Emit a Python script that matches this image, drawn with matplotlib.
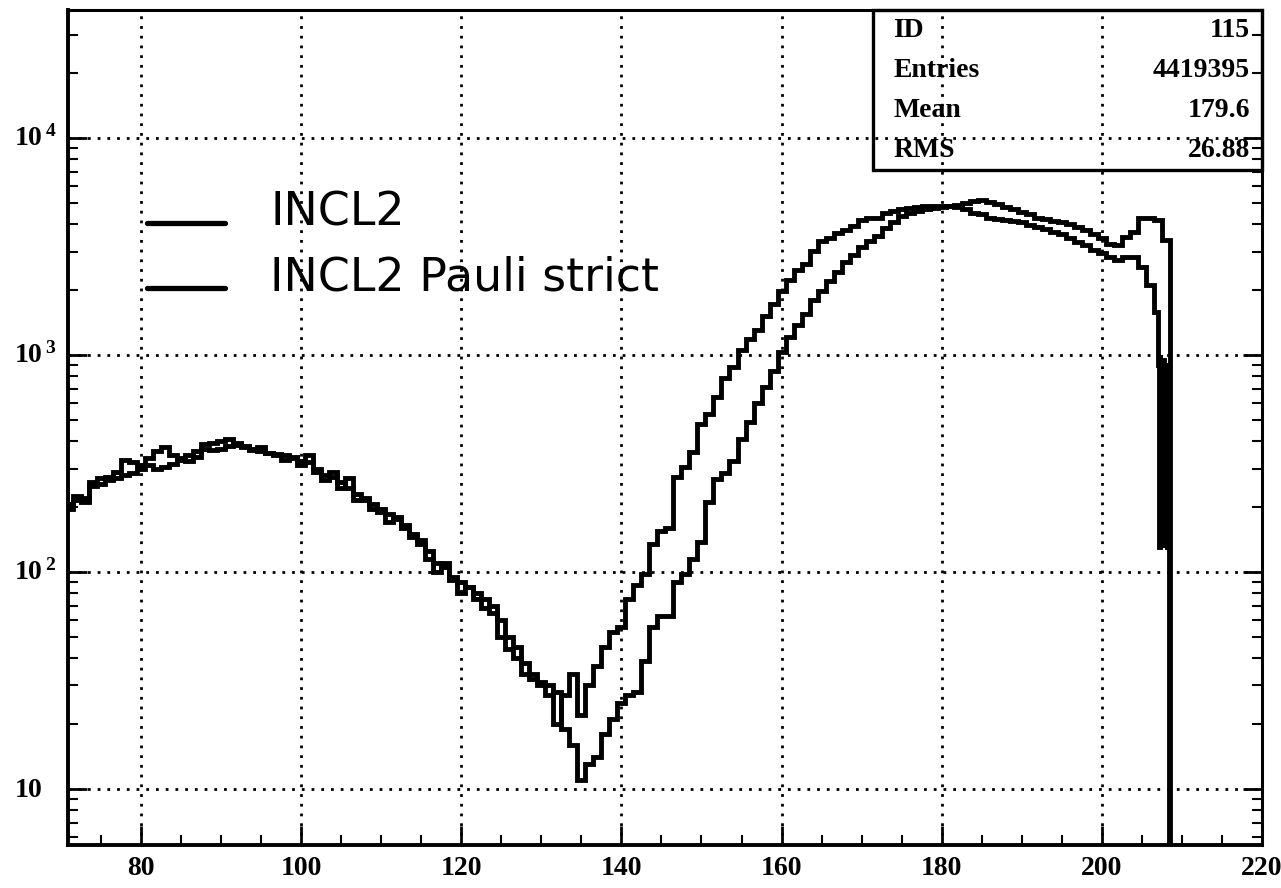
import matplotlib
matplotlib.use('Agg')
import matplotlib.pyplot as plt
import matplotlib.transforms as mtransforms
from matplotlib.patches import Rectangle
from matplotlib.ticker import MultipleLocator, LogLocator, NullFormatter
import numpy as np

plt.rcParams['mathtext.fontset'] = 'custom'
plt.rcParams['mathtext.rm'] = 'Liberation Serif:bold'
plt.rcParams['mathtext.bf'] = 'Liberation Serif:bold'

# ---- data: counts per unit bin, bin centres start at 71 ----
first_bin = 71

# INCL2, bins 71..206
incl2 = [205, 215, 220, 250, 255, 265, 270, 280, 285, 300,
         310, 300, 305, 315, 330, 345, 340, 370, 365, 370,
         380, 385, 375, 365, 360, 355, 350, 345, 335, 325,
         320, 300, 280, 275, 260, 245, 230, 215, 205, 195,
         185, 175, 160, 150, 140, 125, 110, 105, 95, 90,
         85, 80, 75, 70, 60, 50, 45, 38, 34, 31,
         30, 20, 27, 34, 22, 30, 37, 45, 53, 56,
         75, 87, 98, 135, 155, 160, 275, 305, 357, 483,
         535, 641, 785, 879, 1054, 1180, 1300, 1516, 1713, 1974,
         2227, 2465, 2620, 3020, 3340, 3470, 3650, 3750, 3940, 4180,
         4300, 4300, 4500, 4600, 4700, 4750, 4800, 4850, 4850, 4850,
         4850, 4800, 4700, 4500, 4450, 4300, 4250, 4200, 4150, 4100,
         3980, 3900, 3800, 3700, 3600, 3450, 3330, 3200, 3050, 2950,
         2830, 2740, 2830, 2830, 2540, 2100]
# INCL2 end of spectrum, finer binning (edges below)
incl2_tail = [1580, 900, 130, 1000, 140, 850, 135, 950, 130, 800, 140, 900, 130, 700, 130]
incl2_tail_edges = [206.5, 207.0, 207.1, 207.2, 207.3, 207.4, 207.5, 207.6, 207.7,
                    207.8, 207.9, 208.0, 208.1, 208.2, 208.3, 208.4]

# INCL2 Pauli strict, bins 71..208
pauli = [195, 225, 210, 260, 270, 275, 290, 330, 320, 310,
         335, 360, 375, 345, 335, 325, 360, 390, 395, 400,
         410, 395, 380, 370, 375, 355, 345, 330, 340, 310,
         345, 290, 265, 290, 245, 270, 215, 220, 195, 190,
         170, 180, 165, 145, 135, 115, 100, 110, 92, 80,
         85, 75, 68, 65, 50, 44, 40, 34, 32, 30,
         27, 28, 19, 16, 11, 13, 14, 18, 21, 25,
         27, 28, 39, 56, 63, 63, 90, 98, 115, 138,
         211, 269, 286, 324, 411, 493, 603, 709, 846, 1033,
         1215, 1371, 1550, 1786, 1977, 2190, 2422, 2681, 2906, 3150,
         3350, 3550, 3850, 4100, 4350, 4500, 4620, 4700, 4750, 4800,
         4850, 4900, 5000, 5150, 5180, 5100, 4950, 4800, 4700, 4550,
         4450, 4300, 4250, 4150, 4100, 4000, 3900, 3750, 3600, 3450,
         3250, 3200, 3500, 3700, 4280, 4280, 4200, 3400]

stats_labels = ['ID', 'Entries', 'Mean', 'RMS']
stats_values = ['115', '4419395', '179.6', '26.88']
legend_labels = ['INCL2', 'INCL2 Pauli strict']
x_ticks = [80, 100, 120, 140, 160, 180, 200, 220]
y_decades = [1, 2, 3, 4]

# ---- figure ----
fig = plt.figure(figsize=(12.81, 8.88), dpi=100)
ax = fig.add_axes([0.0531, 0.0484, 0.9321, 0.9403])

incl2_edges = np.concatenate([first_bin - 0.5 + np.arange(len(incl2)), incl2_tail_edges])
pauli_edges = first_bin - 0.5 + np.arange(len(pauli) + 1)

ax.stairs(incl2 + incl2_tail, incl2_edges, baseline=0.01, color='black', lw=3.5)
ax.stairs(pauli, pauli_edges, baseline=0.01, color='black', lw=3.5)

ax.set_yscale('log')
ax.set_xlim(70.9, 220)
ax.set_ylim(5.52, 38900)

ax.xaxis.set_major_locator(MultipleLocator(20))
ax.xaxis.set_minor_locator(MultipleLocator(5))
ax.yaxis.set_major_locator(LogLocator(base=10))
ax.yaxis.set_minor_locator(LogLocator(base=10, subs=np.arange(2, 10)))
ax.yaxis.set_major_formatter(NullFormatter())
ax.yaxis.set_minor_formatter(NullFormatter())

ax.set_xticks(x_ticks)
ax.set_xticklabels([str(t) for t in x_ticks], fontfamily='Liberation Serif',
                   fontweight='bold', fontsize=20)

ax.tick_params(which='major', direction='in', length=14, width=2,
               left=True, right=True, bottom=True, top=False, labelleft=False, pad=8)
ax.tick_params(which='minor', direction='in', length=7, width=1.5,
               left=True, right=True, bottom=True, top=False)

ax.grid(True, which='major', color='black', linestyle=(0, (1, 2.5)), lw=2.0)

for side in ['left', 'bottom']:
    ax.spines[side].set_linewidth(2.8)
for side in ['right', 'top']:
    ax.spines[side].set_linewidth(2.2)

# y labels: "10", "10^2", ...
trans_y = mtransforms.blended_transform_factory(ax.transAxes, ax.transData)
for d in y_decades:
    lab = r'$\mathbf{10}$' if d == 1 else r'$\mathbf{10^{\,%d}}$' % d
    ax.text(-0.0455, 10.0 ** d, lab, transform=trans_y, ha='left', va='center',
            fontsize=20, clip_on=False)

# legend drawn by hand
leg_y = [0.745, 0.667]
for yy, lab in zip(leg_y, legend_labels):
    ax.plot([0.0663, 0.1317], [yy, yy], transform=ax.transAxes, color='black',
            lw=3.8, solid_capstyle='round')
    ax.text(0.1695, yy - 0.003, lab, transform=ax.transAxes, ha='left',
            va='baseline', fontsize=33, fontfamily='DejaVu Sans', color='black')

# statistics box
ax.add_patch(Rectangle((0.674, 0.808), 0.326, 0.192, transform=ax.transAxes,
                       fill=False, edgecolor='black', lw=2.4, clip_on=False))
row_y = [0.976, 0.928, 0.880, 0.832]
for yy, lab, val in zip(row_y, stats_labels, stats_values):
    ax.text(0.691, yy, lab, transform=ax.transAxes, ha='left', va='center',
            fontsize=20, fontfamily='Liberation Serif', fontweight='bold')
    ax.text(0.990, yy, val, transform=ax.transAxes, ha='right', va='center',
            fontsize=20, fontfamily='Liberation Serif', fontweight='bold')

fig.savefig('out.png', dpi=100)
